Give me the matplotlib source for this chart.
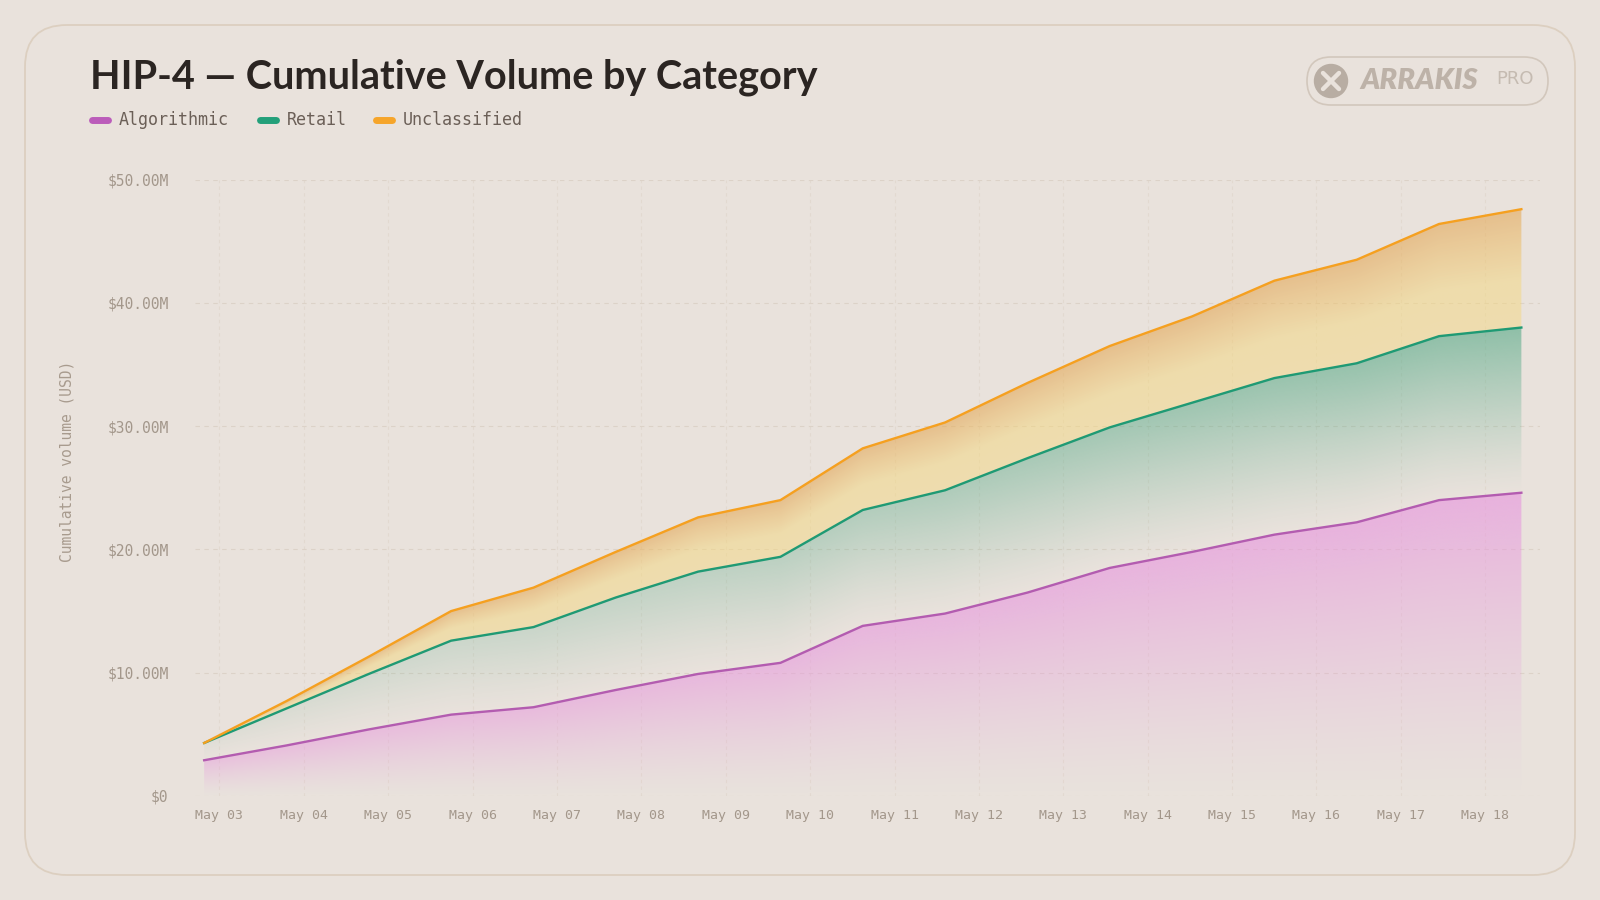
import numpy as np
import pandas as pd
import matplotlib
matplotlib.use("Agg")
import matplotlib.pyplot as plt
import matplotlib.dates as mdates
from matplotlib.patches import FancyBboxPatch, Circle
from matplotlib.path import Path
from matplotlib.ticker import FuncFormatter

# données (volume cumulé, en millions USD)
timestamps = ["2025-05-02 19:38", "2025-05-03 19:03", "2025-05-04 18:28", "2025-05-05 17:53",
              "2025-05-06 17:18", "2025-05-07 16:43", "2025-05-08 16:08", "2025-05-09 15:33",
              "2025-05-10 14:58", "2025-05-11 14:23", "2025-05-12 13:48", "2025-05-13 13:13",
              "2025-05-14 12:38", "2025-05-15 12:03", "2025-05-16 11:28", "2025-05-17 10:53",
              "2025-05-18 10:18"]
algorithmic = [2.9, 4.1, 5.4, 6.6, 7.2, 8.6, 9.9, 10.8, 13.8, 14.8, 16.5, 18.5, 19.8, 21.2, 22.2, 24.0, 24.6]
retail = [1.4, 3.0, 4.5, 6.0, 6.5, 7.5, 8.3, 8.6, 9.4, 10.0, 10.9, 11.4, 12.1, 12.7, 12.9, 13.3, 13.4]
unclassified = [0.0, 0.6, 1.4, 2.4, 3.2, 3.7, 4.4, 4.6, 5.0, 5.5, 6.1, 6.6, 7.0, 7.9, 8.4, 9.1, 9.6]

categories = ["Algorithmic", "Retail", "Unclassified"]
line_colors = ["#b35cb0", "#1f9a74", "#f5a020"]
legend_colors = ["#bb5cba", "#23a07a", "#f6a52a"]

BG = "#e9e2dc"
TICK = "#a3978b"


def bande(ax, x, bas, haut, c_top, c_bot, a_top, a_bot, power=0.0, mid=1.0, expo=1.0):
    # remplissage en dégradé, découpé sur la bande (bas -> haut)
    ymax = max(haut)
    nx, ny = 600, 400
    gx = np.linspace(x[0], x[-1], nx)
    gy = np.linspace(0, ymax, ny)
    up = np.interp(gx, x, haut)
    lo = np.interp(gx, x, bas)
    t = (up[None, :] - gy[:, None]) / np.maximum(up - lo, 1e-9)[None, :]
    t = np.clip(t, 0, 1)
    s = np.clip(t / mid, 0, 1)[..., None]
    c_top = np.array(c_top) / 255.0
    c_bot = np.array(c_bot) / 255.0
    rgb = c_top[None, None, :] * (1 - s) + c_bot[None, None, :] * s
    alpha = (a_top * (1 - t) ** expo + a_bot * (1 - (1 - t) ** expo)) * ((up / ymax) ** power)[None, :]
    img = np.dstack([rgb, alpha])
    im = ax.imshow(img, extent=[x[0], x[-1], 0, ymax], origin="lower", aspect="auto",
                   interpolation="bilinear", zorder=2)
    verts = list(zip(x, haut)) + list(zip(x[::-1], bas[::-1]))
    im.set_clip_path(Path(verts), ax.transData)


def main():
    x = mdates.date2num(pd.to_datetime(timestamps))
    a = np.array(algorithmic)
    r = a + np.array(retail)
    u = r + np.array(unclassified)

    fig = plt.figure(figsize=(16, 9), dpi=100)
    fig.patch.set_facecolor(BG)

    # fond : carte arrondie + logo, en pixels
    bg = fig.add_axes([0, 0, 1, 1])
    bg.set_xlim(0, 1600)
    bg.set_ylim(900, 0)
    bg.axis("off")
    bg.add_patch(FancyBboxPatch((25, 25), 1550, 850, boxstyle="round,pad=0,rounding_size=42",
                                fc=BG, ec="#dccfc0", lw=1.3))
    bg.add_patch(FancyBboxPatch((1307, 57), 241, 48, boxstyle="round,pad=0,rounding_size=24",
                                fc="none", ec="#d2c7bc", lw=1.2))
    bg.add_patch(Circle((1331, 81), 16.5, color="#b8ada3"))
    bg.plot([1323, 1339], [73, 89], color=BG, lw=3.2, solid_capstyle="round")
    bg.plot([1323, 1339], [89, 73], color=BG, lw=3.2, solid_capstyle="round")
    bg.text(1360, 81, "ARRAKIS", fontsize=21, fontweight="heavy", style="italic",
            family=["Lato", "DejaVu Sans"], color="#bdb2a8", va="center", ha="left")
    bg.text(1496, 79, "PRO", fontsize=13, family=["DejaVu Sans"], color="#c5bbb1",
            va="center", ha="left")

    # titre
    bg.text(90, 89, "HIP-4 — Cumulative Volume by Category", fontsize=28.5, fontweight="bold",
            family=["Lato", "DejaVu Sans"], color="#2b2522", va="baseline", ha="left")

    # légende faite à la main
    lx = [90, 258, 374]
    for i, cat in enumerate(categories):
        bg.plot([lx[i] + 2, lx[i] + 18], [119.5, 119.5], color=legend_colors[i], lw=5,
                solid_capstyle="round")
        bg.text(lx[i] + 29, 120, cat, fontsize=12, family="DejaVu Sans Mono", color="#6b5f57",
                va="center", ha="left")

    bg.text(67.5, 461, "Cumulative volume (USD)", fontsize=10.5, family="DejaVu Sans Mono",
            color="#a89b8e", rotation=90, va="center", ha="center")

    ax = fig.add_axes([195 / 1600, 1 - 796 / 900, 1345 / 1600, (796 - 179.6) / 900])
    ax.set_facecolor("none")

    bande(ax, x, np.zeros_like(a), a, (232, 150, 222), (232, 150, 222), 0.64, 0.0,
          power=0.15, expo=1.3)
    bande(ax, x, a, r, (60, 160, 120), (60, 160, 120), 0.52, 0.0, power=1.0, expo=1.2)
    bande(ax, x, r, u, (228, 162, 74), (245, 215, 122), 0.54, 0.46, power=0.0, mid=0.6)

    ax.plot(x, a, color=line_colors[0], lw=1.7, zorder=4, solid_joinstyle="round")
    ax.plot(x, r, color=line_colors[1], lw=1.7, zorder=4, solid_joinstyle="round")
    ax.plot(x, u, color=line_colors[2], lw=1.7, zorder=5, solid_joinstyle="round")

    ax.set_ylim(0, 50)
    ax.set_xlim(mdates.date2num(pd.Timestamp("2025-05-02 17:02")),
                mdates.date2num(pd.Timestamp("2025-05-18 15:36")))
    ax.set_yticks([0, 10, 20, 30, 40, 50])
    ax.yaxis.set_major_formatter(FuncFormatter(lambda v, p: "$0" if v == 0 else f"${v:.2f}M"))
    ax.xaxis.set_major_locator(mdates.DayLocator())
    ax.xaxis.set_major_formatter(mdates.DateFormatter("%b %d"))

    ax.grid(axis="y", color="#dcd2c8", lw=0.8, ls=(0, (4, 4)), zorder=0)
    ax.grid(axis="x", color="#e2d9d0", lw=0.8, ls=(0, (3, 3)), zorder=0)
    for s in ax.spines.values():
        s.set_visible(False)
    ax.tick_params(axis="y", length=0, pad=19, labelsize=10.5, labelcolor=TICK)
    ax.tick_params(axis="x", length=0, pad=9, labelsize=9.5, labelcolor=TICK)
    for lab in ax.get_xticklabels() + ax.get_yticklabels():
        lab.set_family("DejaVu Sans Mono")

    fig.savefig("out.png", dpi=100, facecolor=BG)


if __name__ == "__main__":
    main()
